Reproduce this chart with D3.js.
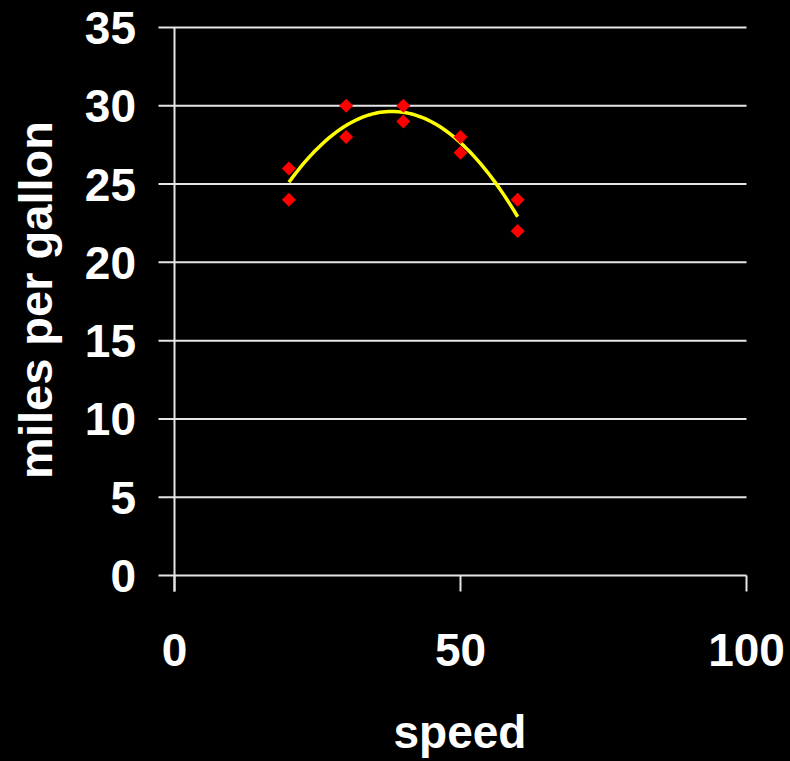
<!DOCTYPE html>
<html>
<head>
<meta charset="utf-8">
<script src="https://cdn.jsdelivr.net/npm/d3@7/dist/d3.min.js"></script>
<style>
  html, body { margin: 0; padding: 0; background: #000; }
  svg { display: block; }
  text { font-family: "Liberation Sans", Arial, sans-serif; font-weight: bold; fill: #fff; }
</style>
</head>
<body>
<svg id="chart" width="790" height="761"></svg>
<script>
// Data
const speed = [20, 20, 30, 30, 40, 40, 50, 50, 60, 60];
const mpg   = [26, 24, 30, 28, 30, 29, 28, 27, 24, 22];
const xTicks = [0, 50, 100];
const yTicks = [0, 5, 10, 15, 20, 25, 30, 35];
const xTitle = "speed";
const yTitle = "miles per gallon";

const svg = d3.select("#chart");
const x = d3.scaleLinear().domain([0, 100]).range([174.5, 746.5]);
const y = d3.scaleLinear().domain([0, 35]).range([575.5, 27.5]);
const gridColor = "#e6e6e6";

// Horizontal gridlines (with left tick stubs)
svg.append("g").selectAll("line").data(yTicks).join("line")
  .attr("x1", x(0) - 16).attr("x2", x(100))
  .attr("y1", d => y(d)).attr("y2", d => y(d))
  .attr("stroke", gridColor).attr("stroke-width", 2);

// Y axis line
svg.append("line")
  .attr("x1", x(0)).attr("x2", x(0))
  .attr("y1", y(35)).attr("y2", y(0) + 16)
  .attr("stroke", gridColor).attr("stroke-width", 2);

// X tick marks
svg.append("g").selectAll("line").data(xTicks).join("line")
  .attr("x1", d => x(d)).attr("x2", d => x(d))
  .attr("y1", y(0)).attr("y2", y(0) + 16)
  .attr("stroke", gridColor).attr("stroke-width", 2);

// Y tick labels
svg.append("g").selectAll("text").data(yTicks).join("text")
  .attr("x", 136).attr("y", d => y(d) + 16.5)
  .attr("text-anchor", "end").attr("font-size", 46)
  .text(d => d);

// X tick labels
svg.append("g").selectAll("text").data(xTicks).join("text")
  .attr("x", d => x(d)).attr("y", 666)
  .attr("text-anchor", "middle").attr("font-size", 46)
  .text(d => d);

// Axis titles
svg.append("text").attr("x", 460).attr("y", 748)
  .attr("text-anchor", "middle").attr("font-size", 46).text(xTitle);
svg.append("text")
  .attr("transform", `translate(52,300) rotate(-90)`)
  .attr("text-anchor", "middle").attr("font-size", 47).text(yTitle);

// Polynomial (order 2) least-squares trendline computed from the data
function quadFit(xs, ys) {
  const n = xs.length;
  let S = [0,0,0,0,0], T = [0,0,0];
  for (let i = 0; i < n; i++) {
    let p = 1;
    for (let k = 0; k < 5; k++) { S[k] += p; if (k < 3) T[k] += p * ys[i]; p *= xs[i]; }
  }
  const A = [[S[0],S[1],S[2],T[0]],[S[1],S[2],S[3],T[1]],[S[2],S[3],S[4],T[2]]];
  for (let c = 0; c < 3; c++) {
    for (let r = c + 1; r < 3; r++) {
      const f = A[r][c] / A[c][c];
      for (let k = c; k < 4; k++) A[r][k] -= f * A[c][k];
    }
  }
  const b = [0,0,0];
  for (let r = 2; r >= 0; r--) {
    let s = A[r][3];
    for (let k = r + 1; k < 3; k++) s -= A[r][k] * b[k];
    b[r] = s / A[r][r];
  }
  return v => b[0] + b[1] * v + b[2] * v * v;
}
const fit = quadFit(speed, mpg);
const [xmin, xmax] = d3.extent(speed);
const fitPts = d3.range(xmin, xmax + 0.001, 0.5).map(v => [v, fit(v)]);

svg.append("path").datum(fitPts)
  .attr("fill", "none").attr("stroke", "#ffff00").attr("stroke-width", 3.5)
  .attr("d", d3.line().x(d => x(d[0])).y(d => y(d[1])));

// Red diamond markers
const pts = speed.map((s, i) => ({ s, m: mpg[i] }));
svg.append("g").selectAll("path").data(pts).join("path")
  .attr("transform", d => `translate(${x(d.s)},${y(d.m)})`)
  .attr("d", "M0,-7L7,0L0,7L-7,0Z")
  .attr("fill", "#ff0000");
</script>
</body>
</html>
